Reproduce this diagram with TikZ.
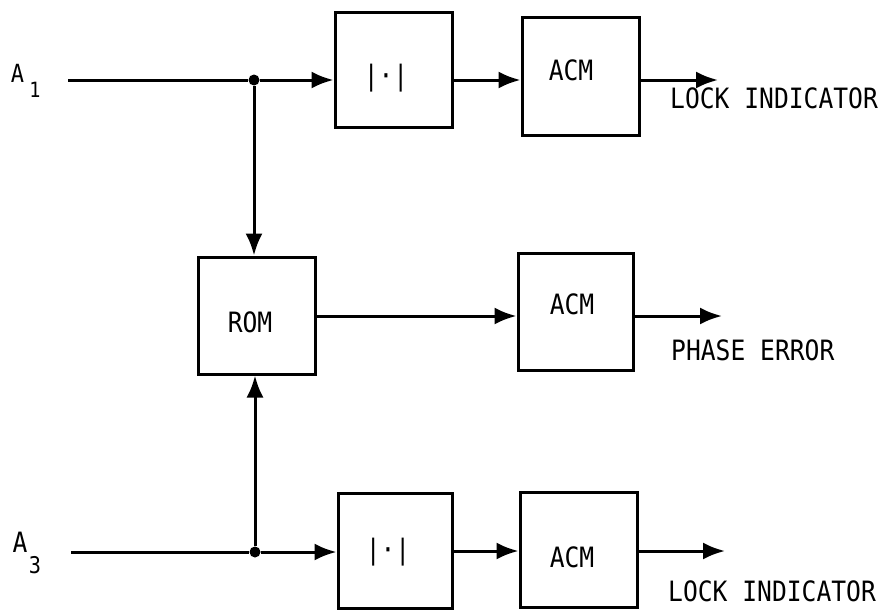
\documentclass[tikz,border=0pt]{standalone}
\usepackage{fontspec}
\newfontfamily\lblfont{DejaVu Sans Mono}
\usetikzlibrary{arrows.meta}
\tikzset{
  wire/.style={line width=3pt},
  sig/.style={wire,-{Latex[length=22pt,width=17pt]}},
  blockbox/.style={draw,line width=3pt,inner sep=0pt},
  junction/.style={circle,fill=black,inner sep=0pt,minimum size=11pt},
  txt/.style={inner sep=0pt,xscale=0.88,font=\lblfont\fontsize{28}{28}\selectfont},
  subtxt/.style={inner sep=0pt,xscale=0.88,font=\lblfont\fontsize{23}{23}\selectfont},
}
\begin{document}
\begin{tikzpicture}[x=1pt,y=-1pt]
\useasboundingbox (0,0) rectangle (892,613);

% blocks
\node[blockbox,minimum width=117pt,minimum height=115pt] (abs1) at (393.5,69.5) {};
\node[blockbox,minimum width=117pt,minimum height=118pt] (acm1) at (580.5,76) {};
\node[blockbox,minimum width=117pt,minimum height=117pt] (rom)  at (256.5,315.5) {};
\node[blockbox,minimum width=115pt,minimum height=117pt] (acm2) at (575.5,311.5) {};
\node[blockbox,minimum width=114pt,minimum height=115pt] (abs3) at (395,550.5) {};
\node[blockbox,minimum width=117pt,minimum height=115pt] (acm3) at (578.5,549.5) {};

% block captions
\node[txt] (t-abs1) at (386,78) {|·|};
\node[txt] (t-acm1) at (571,70) {ACM};
\node[txt] (t-rom)  at (250,322) {ROM};
\node[txt] (t-acm2) at (572,304) {ACM};
\node[txt] (t-abs3) at (388,552) {|·|};
\node[txt] (t-acm3) at (572,557) {ACM};

% inputs
\node[txt,font=\lblfont\fontsize{25}{25}\selectfont] (a1) at (17.5,73.5) {A};
\node[subtxt,font=\lblfont\fontsize{21}{21}\selectfont] (a1s) at (35,90) {1};
\node[txt] (a3) at (20,542.5) {A};
\node[subtxt] (a3s) at (35,565) {3};
\coordinate (in1) at (68,80);
\coordinate (in3) at (71,552);
\node[junction] (j1) at (254,80) {};
\node[junction] (j3) at (255,552) {};

% outputs
\coordinate (out1) at (718,80);
\coordinate (out2) at (722,316);
\coordinate (out3) at (725,551);
\node[txt,anchor=west] (lock1) at (670,98) {LOCK INDICATOR};
\node[txt,anchor=west] (phase) at (671,350) {PHASE ERROR};
\node[txt,anchor=west] (lock3) at (668,591) {LOCK INDICATOR};

% upper channel
\draw[wire] (in1) -- (j1);
\draw[sig] (j1) -- (j1 -| abs1.west);
\draw[sig] (abs1.east |- j1) -- (acm1.west |- j1);
\draw[sig] (acm1.east |- out1) -- (out1);

% lower channel
\draw[wire] (in3) -- (j3);
\draw[sig] (j3) -- (j3 -| abs3.west);
\draw[sig] (abs3.east |- out3) -- (acm3.west |- out3);
\draw[sig] (acm3.east |- out3) -- (out3);

% phase path
\draw[sig] (j1) -- (j1 |- rom.north);
\draw[sig] (j3) -- (j3 |- rom.south);
\draw[sig] (rom.east |- out2) -- (acm2.west |- out2);
\draw[sig] (acm2.east |- out2) -- (out2);
\end{tikzpicture}
\end{document}
